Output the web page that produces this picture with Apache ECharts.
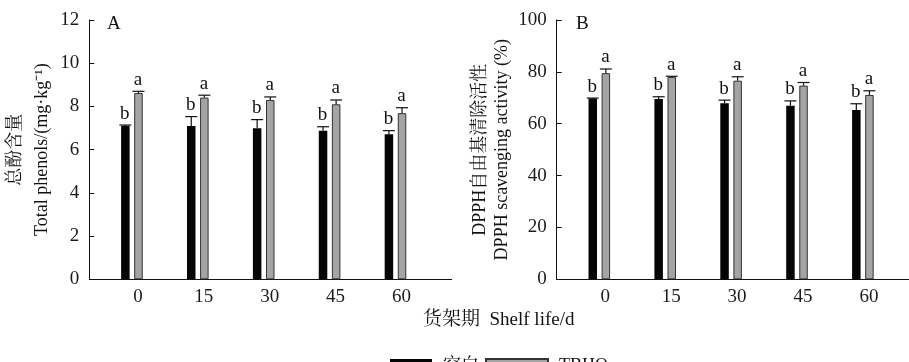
<!DOCTYPE html>
<html>
<head>
<meta charset="utf-8">
<script src="https://cdn.jsdelivr.net/npm/echarts@6/dist/echarts.min.js"></script>
<style>
html,body{margin:0;padding:0;background:#fff;}
#c{width:909px;height:362px;}
</style>
</head>
<body>
<div id="c"></div>
<script>
// ---- data ----
var days = [0, 15, 30, 45, 60];
var dayLabels = ['0', '15', '30', '45', '60'];
var phenolsBlank = [7.11, 7.10, 6.99, 6.88, 6.71];
var phenolsBlankErr = [0.03, 0.43, 0.40, 0.18, 0.17];
var phenolsTBHQ = [8.62, 8.41, 8.30, 8.10, 7.69];
var phenolsTBHQErr = [0.08, 0.11, 0.14, 0.20, 0.25];
var dpphBlank = [69.7, 69.5, 67.9, 66.9, 65.3];
var dpphBlankErr = [0.2, 0.9, 1.2, 1.9, 2.4];
var dpphTBHQ = [79.5, 78.0, 76.6, 74.7, 71.1];
var dpphTBHQErr = [1.6, 0.3, 1.5, 1.2, 1.6];
var blankLetters = ['b', 'b', 'b', 'b', 'b'];
var tbhqLetters = ['a', 'a', 'a', 'a', 'a'];

var SERIF = '"Liberation Serif","Times New Roman","Noto Serif CJK SC","Noto Sans CJK SC",serif';
var BAR_W = 8.5;
var HALF_PITCH = 6.55;
var CAP_W = 12;

function pairs(vals) { return days.map(function (d, i) { return [d, vals[i]]; }); }
function errData(vals, errs, letters) {
  return days.map(function (d, i) { return [d, vals[i], errs[i], letters[i]]; });
}
function errSeries(name, gi, vals, errs, letters, shift) {
  return {
    name: name, type: 'custom', xAxisIndex: gi, yAxisIndex: gi, z: 5,
    data: errData(vals, errs, letters),
    renderItem: function (params, api) {
      var x = api.value(0), v = api.value(1), e = api.value(2);
      var p0 = api.coord([x, v]);
      var p1 = api.coord([x, v + e]);
      var cx = p0[0] + shift;
      return {
        type: 'group',
        children: [
          { type: 'line', shape: { x1: cx, y1: p0[1], x2: cx, y2: p1[1] }, style: { stroke: '#111', lineWidth: 1.2 } },
          { type: 'line', shape: { x1: cx - CAP_W / 2, y1: p1[1], x2: cx + CAP_W / 2, y2: p1[1] }, style: { stroke: '#111', lineWidth: 1.2 } },
          { type: 'text', x: cx - 0.5, y: p1[1] - 2, style: { text: api.value(3), fill: '#111', font: '19px ' + SERIF, textAlign: 'center', textVerticalAlign: 'bottom' } }
        ]
      };
    }
  };
}

function xAxisCfg(gi, max) {
  return {
    gridIndex: gi, type: 'value', min: -9.7, max: max,
    axisLine: { show: true, onZero: false, lineStyle: { color: '#111', width: 1 } },
    axisTick: { show: false },
    splitLine: { show: false },
    axisLabel: {
      customValues: days,
      formatter: function (v) { return dayLabels[days.indexOf(v)]; },
      color: '#1a1a1a', fontFamily: SERIF, fontSize: 19, margin: 8,
      padding: [0, 0, 0, 12]
    }
  };
}
function yAxisCfg(gi, max, interval, name, lh, gap) {
  return {
    gridIndex: gi, type: 'value', min: 0, max: max, interval: interval,
    name: name, nameLocation: 'middle', nameRotate: 90, nameGap: gap,
    nameTextStyle: { fontFamily: SERIF, fontSize: 18, color: '#111', lineHeight: lh, align: 'center' },
    axisLine: { show: true, onZero: false, lineStyle: { color: '#111', width: 1 } },
    axisTick: { show: true, inside: true, length: 5, lineStyle: { color: '#111' } },
    splitLine: { show: false },
    axisLabel: { color: '#1a1a1a', fontFamily: SERIF, fontSize: 19, margin: 10 }
  };
}

var blackStyle = { color: '#050505' };
var grayStyle = { color: '#a4a4a4', borderColor: '#333', borderWidth: 1 };

var option = {
  animation: false,
  backgroundColor: '#fff',
  grid: [
    { left: 89.3, right: 457.3, top: 20, bottom: 82.7, containLabel: false, outerBoundsMode: 'none' },
    { left: 556.7, right: 0, top: 20, bottom: 82.7, containLabel: false, outerBoundsMode: 'none' }
  ],
  xAxis: [xAxisCfg(0, 72.8), xAxisCfg(1, 70.5)],
  yAxis: [
    yAxisCfg(0, 12, 2, '总酚含量\nTotal phenols/(mg·kg⁻¹)', 27, 34),
    yAxisCfg(1, 100, 20, 'DPPH自由基清除活性\nDPPH scavenging activity (%)', 22, 43)
  ],
  legend: [
    { data: ['空白'], left: 390, top: 357, padding: 0, itemWidth: 42, itemHeight: 14, icon: 'rect',
      textStyle: { fontFamily: SERIF, fontSize: 18, color: '#111', padding: [0, 0, 0, 6] } },
    { data: ['TBHQ'], left: 485, top: 357, padding: 0, itemWidth: 62, itemHeight: 14, icon: 'rect',
      textStyle: { fontFamily: SERIF, fontSize: 18, color: '#111', padding: [0, 0, 0, 6] } }
  ],
  graphic: [
    { type: 'text', left: 107, top: 15, style: { text: 'A', font: '19px ' + SERIF, fill: '#111' } },
    { type: 'text', left: 576, top: 15, style: { text: 'B', font: '19px ' + SERIF, fill: '#111' } },
    { type: 'text', left: 423, top: 311, style: { text: '货架期  Shelf life/d', font: '19px ' + SERIF, fill: '#111' } }
  ],
  series: [
    { name: '空白', type: 'bar', xAxisIndex: 0, yAxisIndex: 0, barWidth: BAR_W, barGap: '54%', itemStyle: blackStyle, data: pairs(phenolsBlank) },
    { name: 'TBHQ', type: 'bar', xAxisIndex: 0, yAxisIndex: 0, barWidth: BAR_W, barGap: '54%', itemStyle: grayStyle, data: pairs(phenolsTBHQ) },
    { name: '空白', type: 'bar', xAxisIndex: 1, yAxisIndex: 1, barWidth: BAR_W, barGap: '54%', itemStyle: blackStyle, data: pairs(dpphBlank) },
    { name: 'TBHQ', type: 'bar', xAxisIndex: 1, yAxisIndex: 1, barWidth: BAR_W, barGap: '54%', itemStyle: grayStyle, data: pairs(dpphTBHQ) },
    errSeries('errA1', 0, phenolsBlank, phenolsBlankErr, blankLetters, -HALF_PITCH),
    errSeries('errA2', 0, phenolsTBHQ, phenolsTBHQErr, tbhqLetters, HALF_PITCH),
    errSeries('errB1', 1, dpphBlank, dpphBlankErr, blankLetters, -HALF_PITCH),
    errSeries('errB2', 1, dpphTBHQ, dpphTBHQErr, tbhqLetters, HALF_PITCH)
  ]
};
var chart = echarts.init(document.getElementById('c'), null, { renderer: 'canvas' });
chart.setOption(option);
</script>
</body>
</html>
